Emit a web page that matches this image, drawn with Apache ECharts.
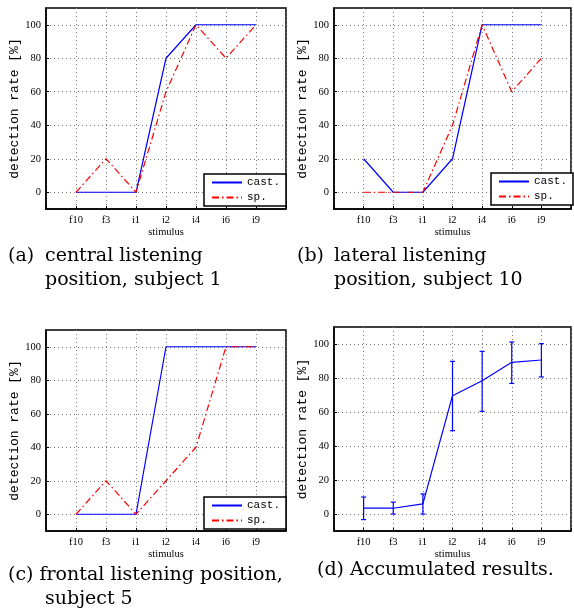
<!DOCTYPE html>
<html>
<head>
<meta charset="utf-8">
<script src="https://cdn.jsdelivr.net/npm/echarts@6/dist/echarts.min.js"></script>
<style>
html,body{margin:0;padding:0;background:#fff;}
#chart{width:574px;height:610px;}
</style>
</head>
<body>
<div id="chart"></div>
<script>
// ---- data ----
const categories = ['f10', 'f3', 'i1', 'i2', 'i4', 'i6', 'i9'];
const yTickValues = [0, 20, 40, 60, 80, 100];
const seriesNames = ['cast.', 'sp.'];

const aCast = [0, 0, 0, 80, 100, 100, 100];
const aSp   = [0, 20, 0, 60, 100, 80, 100];
const bCast = [20, 0, 0, 20, 100, 100, 100];
const bSp   = [0, 0, 0, 40, 100, 60, 80];
const cCast = [0, 0, 0, 100, 100, 100, 100];
const cSp   = [0, 20, 0, 20, 40, 100, 100];
const dMean = [3.4, 3.4, 6, 69.6, 78.4, 89.2, 90.6];
const dLow  = [-3.3, 0, 0, 49, 60.4, 76.8, 80.6];
const dHigh = [10, 7, 11.8, 89.8, 95.7, 101.2, 100.2];

const xName = 'stimulus';
const yName = 'detection rate [%]';
const captionA = ['(a)', 'central listening\nposition, subject 1'];
const captionB = ['(b)', 'lateral listening\nposition, subject 10'];
const captionC = ['(c) frontal listening position,', 'subject 5'];
const captionD = ['(d) Accumulated results.'];

// ---- layout / style ----
const grids = [
  {left: 46, top: 8, width: 240, height: 201},
  {left: 334, top: 8, width: 239, height: 201},
  {left: 46, top: 330, width: 240, height: 201},
  {left: 334, top: 327, width: 239, height: 204}
];
const BLUE = '#0000ff', RED = '#ff0000';
const dashDot = [7, 3, 1.5, 3];
const serif = 'Liberation Serif';
const mono = 'Liberation Mono';
const gridLine = {show: true, lineStyle: {color: '#777', type: [1, 3], width: 1}};

function pairs(arr) { return arr.map((v, i) => [i, v]); }

const xAxes = grids.map((g, i) => ({
  gridIndex: i, type: 'value', min: -1, max: 7, interval: 1,
  name: xName, nameLocation: 'middle', nameGap: 17,
  nameTextStyle: {fontFamily: serif, fontSize: 10.5, color: '#000'},
  axisLine: {show: true, onZero: false, lineStyle: {color: '#000', width: 1.5}},
  axisTick: {show: true, inside: true, length: 3, lineStyle: {color: '#000'}},
  axisLabel: {fontFamily: serif, fontSize: 10.5, color: '#000', margin: 6,
    formatter: v => (categories[v] !== undefined ? categories[v] : '')},
  splitLine: gridLine
}));
const yAxes = grids.map((g, i) => ({
  gridIndex: i, type: 'value', min: -10, max: 110,
  name: yName, nameLocation: 'middle', nameGap: 23,
  nameTextStyle: {fontFamily: mono, fontSize: 13, color: '#000'},
  axisLine: {show: true, onZero: false, lineStyle: {color: '#000', width: 1.5}},
  axisTick: {show: true, inside: true, length: 3, customValues: yTickValues, lineStyle: {color: '#000'}},
  axisLabel: {fontFamily: serif, fontSize: 10.5, color: '#000', margin: 5, customValues: yTickValues},
  splitLine: gridLine
}));

function lineSeries(name, data, idx, color, dashed) {
  return {
    type: 'line', name: name, xAxisIndex: idx, yAxisIndex: idx,
    data: pairs(data), symbol: 'none', showSymbol: false, animation: false,
    lineStyle: {color: color, width: 1.2, type: dashed ? dashDot : 'solid'},
    itemStyle: {color: color}, z: 3
  };
}

const series = [
  lineSeries('cast.', aCast, 0, BLUE, false),
  lineSeries('sp.', aSp, 0, RED, true),
  lineSeries('cast.', bCast, 1, BLUE, false),
  lineSeries('sp.', bSp, 1, RED, true),
  lineSeries('cast.', cCast, 2, BLUE, false),
  lineSeries('sp.', cSp, 2, RED, true),
  {
    type: 'line', name: 'mean', xAxisIndex: 3, yAxisIndex: 3, data: pairs(dMean),
    symbol: 'none', animation: false, lineStyle: {color: BLUE, width: 1.2}, z: 3
  },
  {
    type: 'custom', name: 'err', xAxisIndex: 3, yAxisIndex: 3, animation: false, z: 4,
    data: categories.map((c, i) => [i, dLow[i], dHigh[i]]),
    encode: {x: 0, y: [1, 2]},
    renderItem: function (params, api) {
      const x = api.value(0);
      const pLo = api.coord([x, api.value(1)]);
      const pHi = api.coord([x, api.value(2)]);
      const hw = 2.5;
      const st = {stroke: BLUE, lineWidth: 1.2};
      return {type: 'group', children: [
        {type: 'line', shape: {x1: pLo[0], y1: pLo[1], x2: pHi[0], y2: pHi[1]}, style: st},
        {type: 'line', shape: {x1: pLo[0] - hw, y1: pLo[1], x2: pLo[0] + hw, y2: pLo[1]}, style: st},
        {type: 'line', shape: {x1: pHi[0] - hw, y1: pHi[1], x2: pHi[0] + hw, y2: pHi[1]}, style: st}
      ]};
    }
  }
];

function legendAt(left, top) {
  return {
    data: seriesNames.map(n => ({name: n, itemStyle: {opacity: 0}})),
    orient: 'vertical', left: left, top: top,
    itemWidth: 30, itemHeight: 10, itemGap: 4,
    padding: [3, 6, 3, 7], backgroundColor: '#fff', borderColor: '#000', borderWidth: 1.5,
    itemStyle: {opacity: 0},
    textStyle: {fontFamily: mono, fontSize: 11, color: '#000'},
    selectedMode: false, z: 10
  };
}
const legends = [legendAt(204, 174), legendAt(491, 173), legendAt(204, 497)];

const capStyle = {fontFamily: 'DejaVu Serif', fontSize: 19, fontWeight: 'normal', color: '#000', lineHeight: 24};
function cap(text, left, top) {
  return {text: text, left: left, top: top, padding: 0, textStyle: capStyle};
}
const titles = [
  cap(captionA[0], 8, 244), cap(captionA[1], 45, 244),
  cap(captionB[0], 297, 244), cap(captionB[1], 334, 244),
  cap(captionC[0], 8, 563), cap(captionC[1], 45, 587),
  cap(captionD[0], 317, 558)
];

const chart = echarts.init(document.getElementById('chart'), null, {renderer: 'canvas'});
chart.setOption({
  backgroundColor: '#fff',
  animation: false,
  title: titles,
  legend: legends,
  grid: grids.map(g => Object.assign({show: true, borderColor: '#000', borderWidth: 1.5, backgroundColor: 'transparent', containLabel: false}, g)),
  xAxis: xAxes,
  yAxis: yAxes,
  series: series
});
</script>
</body>
</html>
